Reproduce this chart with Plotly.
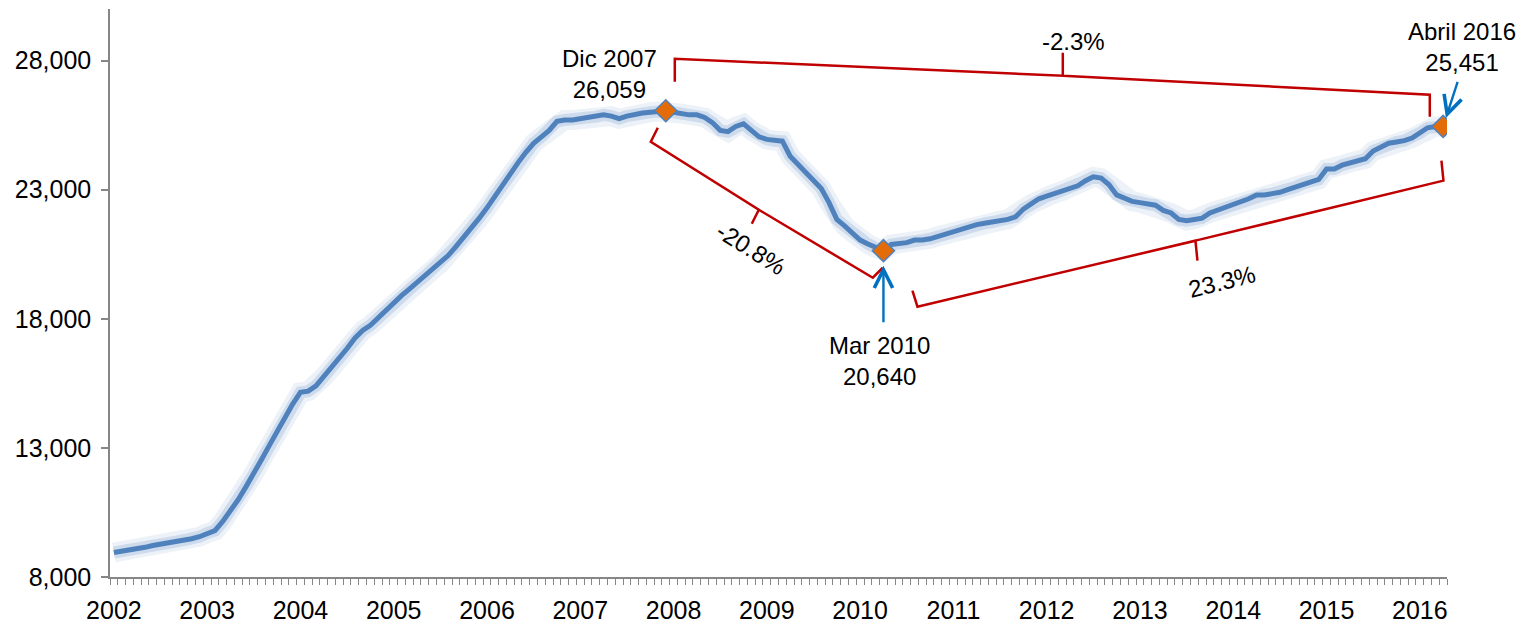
import plotly.graph_objects as go

# monthly values, Jan 2002 .. Apr 2016
v2002 = [8950, 8990, 9030, 9080, 9150, 9220, 9270, 9300, 9370, 9430, 9480, 9560]
v2003 = [9700, 9800, 10150, 10550, 11000, 11500, 12000, 12550, 13100, 13650, 14200, 14700]
v2004 = [15150, 15200, 15400, 15750, 16100, 16500, 16850, 17250, 17550, 17750, 18050, 18350]
v2005 = [18650, 18900, 19150, 19400, 19650, 19900, 20150, 20450, 20800, 21150, 21500, 21900]
v2006 = [22300, 22750, 23200, 23650, 24050, 24450, 24800, 25050, 25300, 25650, 25700, 25700]
v2007 = [25750, 25800, 25820, 25900, 25850, 25750, 25850, 25930, 25970, 26000, 26030, 26059]
v2008 = [26000, 25950, 25900, 25900, 25800, 25600, 25300, 25250, 25450, 25550, 25300, 25050]
v2009 = [24950, 24900, 24880, 24300, 24000, 23700, 23400, 23050, 22500, 21850, 21600, 21350]
v2010 = [21050, 20900, 20750, 20640, 20880, 20900, 20950, 21050, 21050, 21100, 21200, 21300]
v2011 = [21400, 21450, 21550, 21650, 21700, 21750, 21800, 21850, 21950, 22250, 22450, 22650]
v2012 = [22750, 22850, 22950, 23100, 23150, 23350, 23500, 23450, 23200, 22800, 22650, 22550]
v2013 = [22500, 22450, 22400, 22200, 22100, 21850, 21800, 21850, 21900, 22100, 22200, 22300]
v2014 = [22400, 22500, 22650, 22800, 22800, 22850, 22900, 23000, 23100, 23250, 23350, 23400]
v2015 = [23800, 23800, 23950, 24050, 24100, 24200, 24500, 24650, 24800, 24850, 24900, 25000]
v2016 = [25200, 25400, 25450, 25451]

values = (v2002 + v2003 + v2004 + v2005 + v2006 + v2007 + v2008 + v2009 + v2010
          + v2011 + v2012 + v2013 + v2014 + v2015 + v2016)
months = list(range(len(values)))

years = [str(y) for y in range(2002, 2017)]
year_pos = [12 * k for k in range(len(years))]
y_ticks = [8000, 13000, 18000, 23000, 28000]

key_idx = [71, 99, 171]
key_text = ['Dic 2007<br>26,059', 'Mar 2010<br>20,640', 'Abril 2016<br>25,451']
key_shift = [(-56, 37), (-4, -110), (19, 79)]

pct_text = ['-2.3%', '-20.8%', '23.3%']

FONT = 'Liberation Sans, Arial, sans-serif'
BLUE = '#4F81BD'
RED = '#C00000'
ARROW = '#0070C0'

x_range = [-0.5, len(values) - 0.5]
y_range = [8000, 30000]

fig = go.Figure()
# soft glow under the line
fig.add_trace(go.Scatter(x=months, y=values, mode='lines', hoverinfo='skip',
                         line=dict(color='rgba(79,129,189,0.10)', width=20)))
fig.add_trace(go.Scatter(x=months, y=values, mode='lines', hoverinfo='skip',
                         line=dict(color='rgba(79,129,189,0.20)', width=12)))
fig.add_trace(go.Scatter(x=months, y=values, mode='lines',
                         line=dict(color=BLUE, width=5)))
fig.add_trace(go.Scatter(x=key_idx, y=[values[i] for i in key_idx], mode='markers',
                         marker=dict(symbol='diamond', size=17, color='#E36C09',
                                     line=dict(color=BLUE, width=1.5))))

for i, t, (dx, dy) in zip(key_idx, key_text, key_shift):
    fig.add_annotation(x=i, y=values[i], text=t, showarrow=False, xshift=dx, yshift=dy,
                       font=dict(size=24, color='black', family=FONT))

# arrows to the low point and the last point
arrow_style = dict(text='', showarrow=True, arrowhead=5, arrowsize=1.5, arrowwidth=2.4,
                   arrowcolor=ARROW, font=dict(size=1))
fig.add_annotation(x=key_idx[1], y=values[key_idx[1]], ax=0, ay=73, standoff=15, **arrow_style)
# last arrow sticks out past the axis end, so place it in paper units
last = key_idx[2]
px = (last - x_range[0]) / (x_range[1] - x_range[0])
py = (values[last] - y_range[0]) / (y_range[1] - y_range[0])
fig.add_annotation(xref='paper', yref='paper', x=px, y=py,
                   ax=15, ay=-46, standoff=9, **arrow_style)

# braces, in pixel offsets from the marked points
a, b = key_idx[0], key_idx[1]
braces = [
    (a, 'M9,29 L9,52 L397,35 L397,58 M397,35 L764,16 L764,-6'),
    (a, 'M-8,-17 L-15,-31 L93,-99 L86,-113 M93,-99 L207,-167 L217,-157'),
    (b, 'M29,-40 L34,-56 L312,10 L314,-10 M312,10 L560,70 L558,90'),
]
for i, p in braces:
    fig.add_shape(type='path', xref='x', yref='y', xsizemode='pixel', ysizemode='pixel',
                  xanchor=i, yanchor=values[i], path=p,
                  line=dict(color=RED, width=2.5))

fig.add_annotation(x=a, y=values[a], text=pct_text[0], showarrow=False, xshift=408, yshift=69,
                   font=dict(size=24, color='black', family=FONT))
fig.add_annotation(x=a, y=values[a], text=pct_text[1], showarrow=False, xshift=85, yshift=-138,
                   textangle=32, font=dict(size=24, color='black', family=FONT))
fig.add_annotation(x=b, y=values[b], text=pct_text[2], showarrow=False, xshift=339, yshift=-31,
                   textangle=-14, font=dict(size=24, color='black', family=FONT))

# page body has an 8px margin, so the figure is 8px smaller than the window
fig.update_layout(
    width=1516, height=617, showlegend=False,
    margin=dict(l=102, r=77, t=1, b=45),
    paper_bgcolor='white', plot_bgcolor='white',
    font=dict(family=FONT, color='black'),
)
fig.update_xaxes(range=x_range, tickmode='array', tickvals=year_pos,
                 ticktext=years, ticks='', showgrid=False, zeroline=False,
                 showline=True, linecolor='#868686', linewidth=1.5,
                 tickfont=dict(size=25, color='black'), ticklabelstandoff=10,
                 minor=dict(tickmode='linear', tick0=-0.5, dtick=1, ticks='outside',
                            ticklen=6, tickwidth=1, tickcolor='#868686', showgrid=False))
fig.update_yaxes(range=y_range, tickmode='array', tickvals=y_ticks, tickformat=',',
                 ticks='outside', ticklen=7, tickwidth=1.5, tickcolor='#868686',
                 showgrid=False, zeroline=False, showline=True, linecolor='#868686',
                 linewidth=1.5, tickfont=dict(size=25, color='black'), ticklabelstandoff=5)

fig.write_html('out.html')
